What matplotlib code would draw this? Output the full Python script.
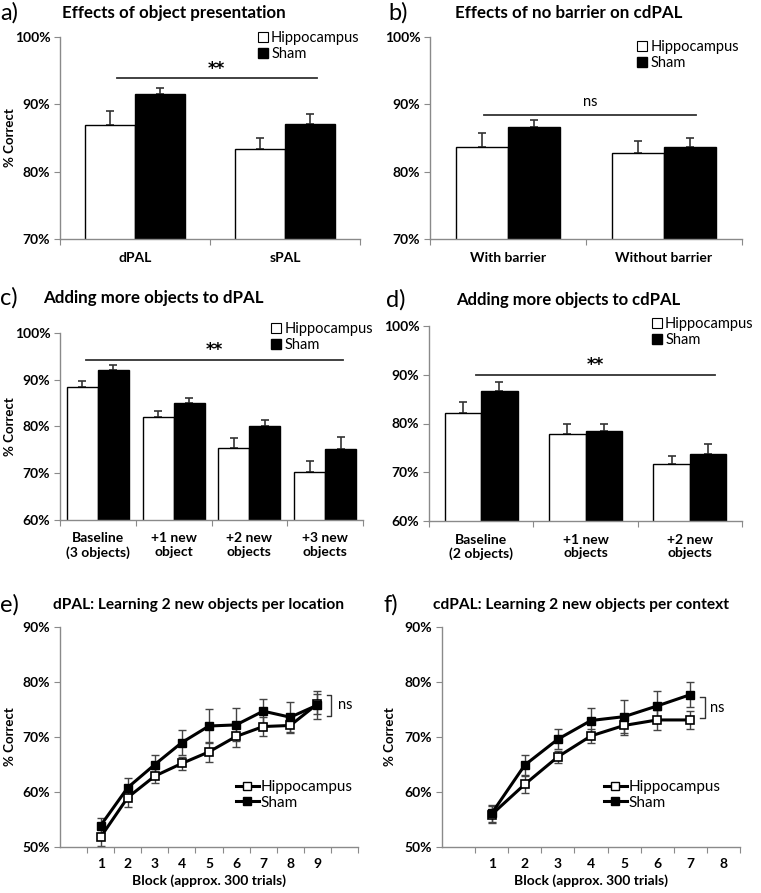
import numpy as np
import matplotlib
matplotlib.use('Agg')
import matplotlib.pyplot as plt
from matplotlib.patches import Patch
from matplotlib.lines import Line2D

plt.rcParams['font.family'] = ['Lato', 'DejaVu Sans']

# ---- data ----
a_cats = ['dPAL', 'sPAL']
a_hipp = [87.0, 83.3]
a_hipp_err = [2.0, 1.7]
a_sham = [91.5, 87.1]
a_sham_err = [1.0, 1.5]

b_cats = ['With barrier', 'Without barrier']
b_hipp = [83.6, 82.8]
b_hipp_err = [2.1, 1.7]
b_sham = [86.6, 83.6]
b_sham_err = [1.1, 1.4]

c_cats = ['Baseline\n(3 objects)', '+1 new\nobject', '+2 new\nobjects', '+3 new\nobjects']
c_hipp = [88.4, 82.1, 75.3, 70.2]
c_hipp_err = [1.3, 1.3, 2.3, 2.5]
c_sham = [92.1, 85.1, 80.1, 75.1]
c_sham_err = [1.0, 1.0, 1.3, 2.6]

d_cats = ['Baseline\n(2 objects)', '+1 new\nobjects', '+2 new\nobjects']
d_hipp = [82.2, 77.9, 71.6]
d_hipp_err = [2.3, 2.0, 1.7]
d_sham = [86.7, 78.4, 73.8]
d_sham_err = [1.8, 1.5, 2.0]

e_blocks = [1, 2, 3, 4, 5, 6, 7, 8, 9]
e_ticklabels = ['1', '2', '3', '4', '5', '6', '7', '8', '9', '']
e_hipp = [51.8, 59.0, 62.9, 65.2, 67.3, 70.1, 71.9, 72.1, 76.0]
e_hipp_err = [1.6, 1.7, 1.2, 1.2, 1.8, 2.0, 1.8, 1.4, 1.8]
e_sham = [53.9, 60.8, 65.0, 69.0, 72.0, 72.2, 74.7, 73.6, 75.8]
e_sham_err = [1.4, 1.8, 1.7, 2.3, 3.1, 3.0, 2.2, 2.7, 2.5]

f_blocks = [1, 2, 3, 4, 5, 6, 7]
f_ticklabels = ['1', '2', '3', '4', '5', '6', '7', '8']
f_hipp = [55.9, 61.4, 66.4, 70.2, 72.1, 73.1, 73.1]
f_hipp_err = [1.5, 1.6, 1.1, 1.2, 1.7, 1.8, 1.7]
f_sham = [56.1, 64.9, 69.6, 73.0, 73.7, 75.65, 77.7]
f_sham_err = [1.6, 1.8, 1.8, 2.3, 3.0, 2.8, 2.3]

W, H = 761, 893
fig = plt.figure(figsize=(W / 100, H / 100), dpi=100)
GRAY = '#8a8a8a'


def add_ax(l, r, t, b):
    return fig.add_axes([l / W, 1 - b / H, (r - l) / W, (b - t) / H])


def ftext(x, y, s, **kw):
    fig.text(x / W, 1 - y / H, s, **kw)


def style(ax):
    for s in ['top', 'right']:
        ax.spines[s].set_visible(False)
    for s in ['left', 'bottom']:
        ax.spines[s].set_color(GRAY)
        ax.spines[s].set_linewidth(1.0)
    ax.tick_params(axis='y', direction='out', length=4, color=GRAY, labelsize=10, pad=3)
    for t in ax.get_yticklabels():
        t.set_fontweight('bold')


def ylab(ax, l, r):
    ax.set_ylabel('% Correct', fontsize=9.5, fontweight='bold')
    ax.yaxis.set_label_coords((16 - l) / (r - l), 0.5)


def cat_axis(ax, labels, lo, hi, pad=9, size=10):
    n = len(labels)
    ax.set_xlim(lo, hi)
    ax.set_xticks(np.arange(n + 1) - 0.5)
    ax.set_xticklabels([])
    ax.set_xticks(np.arange(n), minor=True)
    ax.set_xticklabels(labels, minor=True, fontsize=size, fontweight='bold', linespacing=1.15)
    ax.tick_params(axis='x', which='major', direction='out', length=4, color=GRAY)
    ax.tick_params(axis='x', which='minor', length=0, pad=pad)


def bar_panel(ax, cats, hipp, hipp_err, sham, sham_err, w, ylim, yticks):
    x = np.arange(len(cats))
    ax.bar(x - w / 2, hipp, w, color='white', edgecolor='black', linewidth=1.0, zorder=2)
    ax.bar(x + w / 2, sham, w, color='black', edgecolor='black', linewidth=1.0, zorder=2)
    ax.errorbar(x - w / 2, hipp, yerr=[np.zeros(len(x)), hipp_err], fmt='none',
                ecolor='#333333', elinewidth=1.2, capsize=3, capthick=1.2, zorder=1)
    ax.errorbar(x + w / 2, sham, yerr=[np.zeros(len(x)), sham_err], fmt='none',
                ecolor='#333333', elinewidth=1.2, capsize=3, capthick=1.2, zorder=1)
    ax.set_ylim(*ylim)
    ax.set_yticks(yticks)
    ax.set_yticklabels(['%d%%' % v for v in yticks])
    cat_axis(ax, cats, -0.5, len(cats) - 0.5)
    style(ax)


def bar_legend(ax, x, y):
    handles = [Patch(facecolor='white', edgecolor='black', linewidth=0.8),
               Patch(facecolor='black', edgecolor='black')]
    ax.legend(handles, ['Hippocampus', 'Sham'], loc='upper left',
              bbox_to_anchor=(x / W, 1 - y / H), bbox_transform=fig.transFigure,
              frameon=False, fontsize=10.5, handlelength=0.7, handleheight=0.7,
              handletextpad=0.2, borderpad=0, borderaxespad=0, labelspacing=0.15)


def sig(ax, x0, x1, y, label, ty):
    ax.plot([x0, x1], [y, y], color='#333333', lw=1.3, clip_on=False)
    if label == '**':
        ax.text((x0 + x1) / 2, ty, label, ha='center', va='center',
                fontsize=12, fontweight='bold', family='DejaVu Sans')
    else:
        ax.text((x0 + x1) / 2, ty, label, ha='center', va='center', fontsize=10.5)


def line_panel(ax, blocks, ticklabels, hipp, hipp_err, sham, sham_err, xhi):
    ax.errorbar(blocks, hipp, yerr=hipp_err, fmt='none', ecolor='#444444',
                elinewidth=1.0, capsize=3, capthick=1.0, zorder=1)
    ax.errorbar(blocks, sham, yerr=sham_err, fmt='none', ecolor='#444444',
                elinewidth=1.0, capsize=3, capthick=1.0, zorder=1)
    ax.plot(blocks, hipp, '-s', color='black', lw=2.2, ms=6,
            mfc='white', mec='black', mew=1.2, zorder=3, label='Hippocampus')
    ax.plot(blocks, sham, '-s', color='black', lw=2.2, ms=6,
            mfc='black', mec='black', zorder=4, label='Sham')
    ax.set_ylim(50, 90)
    ax.set_yticks([50, 60, 70, 80, 90])
    ax.set_yticklabels(['50%', '60%', '70%', '80%', '90%'])
    cat_axis(ax, ticklabels, 0.5, xhi, pad=8)
    ax.set_xticks(np.arange(len(ticklabels)) + 1, minor=True)
    ax.set_xticklabels(ticklabels, minor=True, fontsize=10, fontweight='bold')
    ax.set_xticks(np.arange(len(ticklabels) + 1) + 0.5)
    ax.set_xticklabels([])
    ax.set_xlabel('Block (approx. 300 trials)', fontsize=10, fontweight='bold', labelpad=3)
    style(ax)


def line_legend(ax, x, y):
    handles = [Line2D([], [], color='black', lw=2.2, marker='s', ms=6, mfc='white', mec='black'),
               Line2D([], [], color='black', lw=2.2, marker='s', ms=6, mfc='black')]
    ax.legend(handles, ['Hippocampus', 'Sham'], loc='upper left',
              bbox_to_anchor=(x / W, 1 - y / H), bbox_transform=fig.transFigure,
              frameon=False, fontsize=11, handlelength=1.5, handletextpad=0.1,
              borderpad=0, borderaxespad=0, labelspacing=0.1)


def bracket(ax, x, y0, y1, tx):
    ax.plot([x, x + 0.15, x + 0.15, x], [y1, y1, y0, y0], color='#333333', lw=1.0, clip_on=False)
    ax.text(tx, (y0 + y1) / 2, 'ns', ha='left', va='center', fontsize=10.5)


# ---- a ----
ax_a = add_ax(60, 360, 37, 239)
bar_panel(ax_a, a_cats, a_hipp, a_hipp_err, a_sham, a_sham_err, 0.333, (70, 100), [70, 80, 90, 100])
ylab(ax_a, 60, 360)
sig(ax_a, -0.12, 1.21, 93.85, '**', 95.3)
bar_legend(ax_a, 258, 31)

# ---- b ----
ax_b = add_ax(430, 742, 37, 239)
bar_panel(ax_b, b_cats, b_hipp, b_hipp_err, b_sham, b_sham_err, 0.333, (70, 100), [70, 80, 90, 100])
sig(ax_b, -0.154, 1.205, 88.4, 'ns', 90.3)
bar_legend(ax_b, 637, 40)

# ---- c ----
ax_c = add_ax(60, 363, 333, 520)
bar_panel(ax_c, c_cats, c_hipp, c_hipp_err, c_sham, c_sham_err, 0.41, (60, 100), [60, 70, 80, 90, 100])
ylab(ax_c, 60, 363)
sig(ax_c, -0.157, 3.24, 94.3, '**', 96.3)
bar_legend(ax_c, 271, 322)

# ---- d ----
ax_d = add_ax(429, 742, 326, 521)
bar_panel(ax_d, d_cats, d_hipp, d_hipp_err, d_sham, d_sham_err, 0.35, (60, 100), [60, 70, 80, 90, 100])
sig(ax_d, -0.05, 2.237, 90.0, '**', 92.1)
bar_legend(ax_d, 652, 317)

# ---- e ----
ax_e = add_ax(60, 358, 627, 847)
line_panel(ax_e, e_blocks, e_ticklabels, e_hipp, e_hipp_err, e_sham, e_sham_err, 10.5)
ylab(ax_e, 60, 358)
bracket(ax_e, 9.35, 73.9, 77.7, 9.75)
line_legend(ax_e, 236, 780)

# ---- f ----
ax_f = add_ax(442, 740, 627, 847)
line_panel(ax_f, f_blocks, f_ticklabels, f_hipp, f_hipp_err, f_sham, f_sham_err, 8.25)
ylab(ax_f, 442 - 380, 740 - 380)
bracket(ax_f, 7.3, 73.5, 77.2, 7.6)
line_legend(ax_f, 604, 780)

# ---- panel letters and titles ----
titles = [
    (0, 13, 'a)', 62, 'Effects of object presentation', 12.2),
    (388, 13, 'b)', 455, 'Effects of no barrier on cdPAL', 12.2),
    (0, 298, 'c)', 43, 'Adding more objects to dPAL', 12.2),
    (386, 300, 'd)', 456, 'Adding more objects to cdPAL', 12.0),
    (0, 605, 'e)', 53, 'dPAL: Learning 2 new objects per location', 11.2),
    (384, 605, 'f)', 433, 'cdPAL: Learning 2 new objects per context', 11.2),
]
for lx, ly, letter, tx, title, size in titles:
    ftext(lx, ly, letter, fontsize=17, ha='left', va='center')
    ftext(tx, ly, title, fontsize=size, fontweight='bold', ha='left', va='center')

fig.savefig('out.png', dpi=100)
